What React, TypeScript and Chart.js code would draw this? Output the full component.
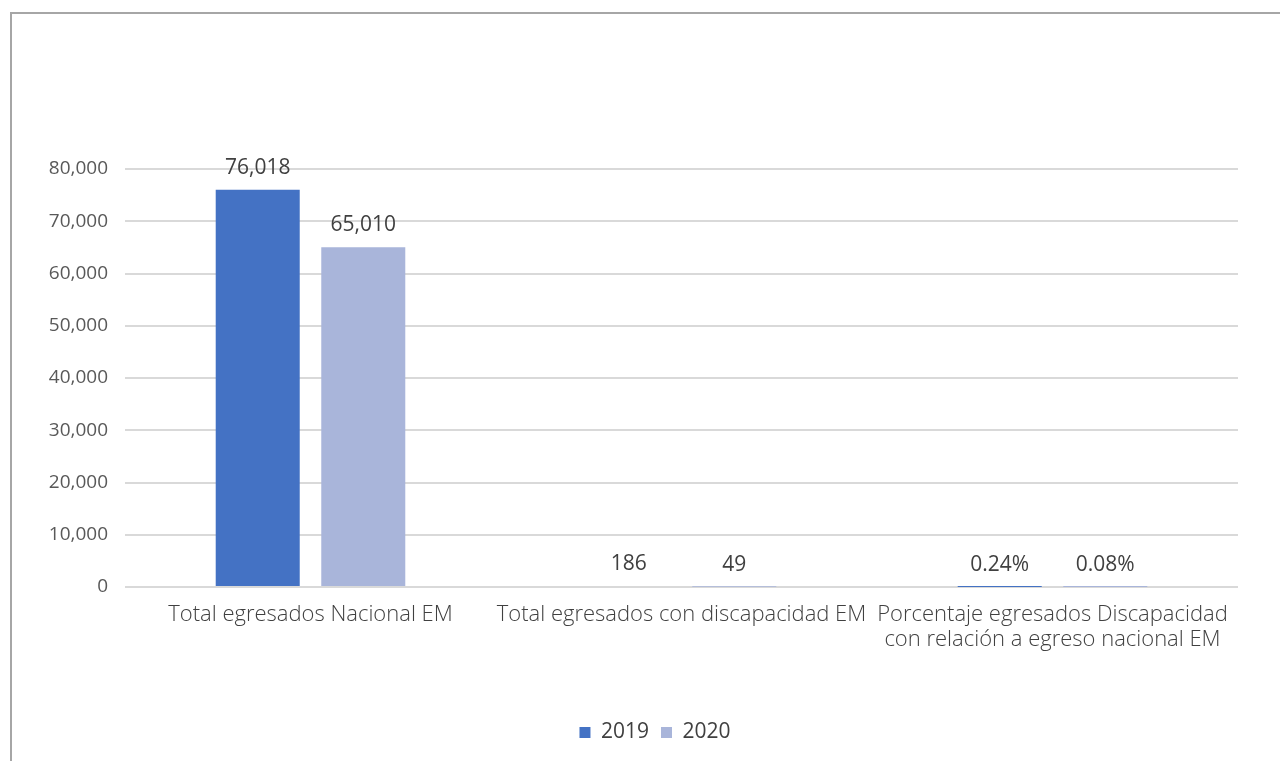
import React, { useEffect, useRef } from "react";
import { Chart, registerables } from "chart.js";

Chart.register(...registerables);

const categories: (string | string[])[] = [
  "Total egresados Nacional EM",
  "Total egresados con discapacidad EM",
  ["Porcentaje egresados Discapacidad", "con relación a egreso nacional EM"],
];
const series2019 = [76018, 186, 0.0024];
const series2020 = [65010, 49, 0.0008];
const yTicks = [0, 10000, 20000, 30000, 40000, 50000, 60000, 70000, 80000];
const percentCategoryIndex = 2;

const FONT = "'Open Sans', Lato, sans-serif";

const fmt = (v: number, i: number) =>
  i === percentCategoryIndex
    ? (v * 100).toFixed(2) + "%"
    : v.toLocaleString("en-US");

const dataLabels = {
  id: "dataLabels",
  afterDatasetsDraw(chart: any) {
    const ctx = chart.ctx;
    ctx.save();
    ctx.font = `21px ${FONT}`;
    ctx.fillStyle = "#404040";
    ctx.textAlign = "center";
    ctx.textBaseline = "alphabetic";
    chart.data.datasets.forEach((ds: any, di: number) => {
      const meta = chart.getDatasetMeta(di);
      meta.data.forEach((bar: any, i: number) => {
        ctx.fillText(fmt(ds.data[i], i), bar.x, bar.y - 16);
      });
    });
    ctx.restore();
  },
};

// shift the legend to the right (centred like the reference)
const legendShift = {
  id: "legendShift",
  afterLayout(chart: any) {
    if (chart.legend) {
      chart.legend.left += 36;
      chart.legend.right += 36;
    }
  },
};

export default function App() {
  const ref = useRef<HTMLCanvasElement>(null);
  useEffect(() => {
    if (!ref.current) return;
    const chart = new Chart(ref.current, {
      type: "bar",
      data: {
        labels: categories,
        datasets: [
          {
            label: "2019",
            data: series2019,
            backgroundColor: "#4472C4",
            categoryPercentage: 0.569,
            barPercentage: 0.796,
          },
          {
            label: "2020",
            data: series2020,
            backgroundColor: "#A9B5DA",
            categoryPercentage: 0.569,
            barPercentage: 0.796,
          },
        ],
      },
      options: {
        animation: false,
        responsive: false,
        maintainAspectRatio: false,
        layout: { padding: { top: 169, right: 42, bottom: 8, left: 0 } },
        plugins: {
          tooltip: { enabled: false },
          legend: {
            position: "bottom",
            labels: {
              boxWidth: 11,
              boxHeight: 11,
              padding: 12,
              color: "#404040",
              font: { family: FONT, size: 21 },
            },
          },
        },
        scales: {
          x: {
            grid: { display: false, drawTicks: false },
            border: { display: false },
            ticks: {
              color: "#404040",
              font: { family: FONT, size: 22, weight: "300", lineHeight: 1.14 },
              padding: 15,
              maxRotation: 0,
              autoSkip: false,
            },
            afterFit(scale: any) {
              scale.height = 123;
            },
          },
          y: {
            min: 0,
            max: 80000,
            afterBuildTicks(scale: any) {
              scale.ticks = yTicks.map((v) => ({ value: v }));
            },
            grid: { color: "#D9D9D9", lineWidth: 2, drawTicks: false },
            border: { display: false },
            ticks: {
              color: "#595959",
              font: { family: FONT, size: 19 },
              padding: 17,
              callback: (v: any) => Number(v).toLocaleString("en-US"),
            },
            afterFit(scale: any) {
              scale.width = 125;
            },
          },
        },
      },
      plugins: [dataLabels, legendShift],
    });
    return () => chart.destroy();
  }, []);

  return (
    <div style={{ position: "fixed", left: 0, top: 0, width: 1280, height: 761, background: "#fff" }}>
      <div
        style={{
          position: "absolute",
          left: 10,
          top: 12,
          width: 1270,
          height: 749,
          borderTop: "2px solid #A6A6A6",
          borderLeft: "2px solid #A6A6A6",
          boxSizing: "border-box",
        }}
      />
      <canvas
        ref={ref}
        width={1280}
        height={761}
        style={{ position: "absolute", left: 0, top: 0, width: 1280, height: 761 }}
      />
    </div>
  );
}
